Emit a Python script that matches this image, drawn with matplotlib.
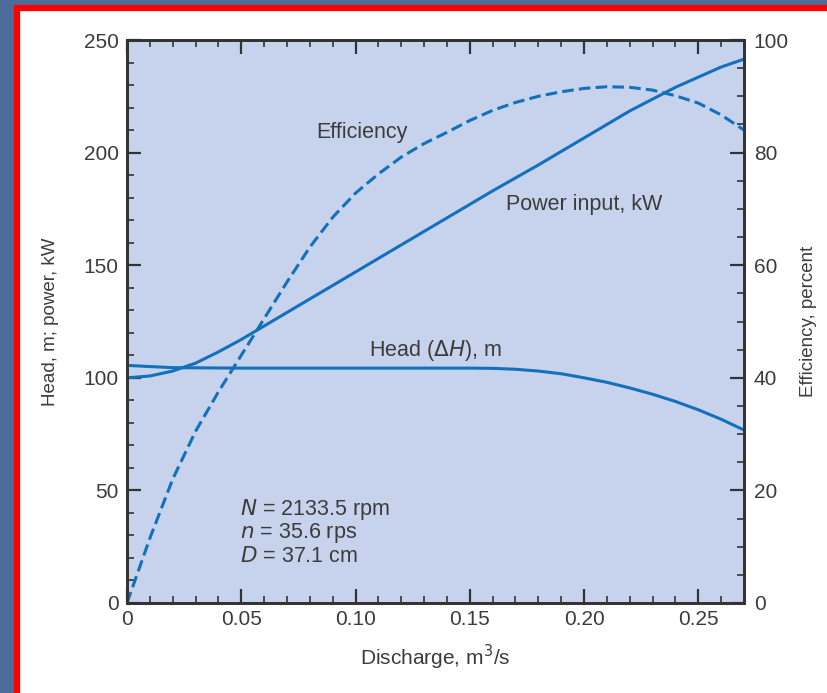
import matplotlib.pyplot as plt
from matplotlib.patches import Rectangle
from matplotlib.ticker import MultipleLocator

# Pump characteristic curves
q_head = [0, 0.01, 0.02, 0.05, 0.10, 0.15, 0.16, 0.17, 0.18, 0.19, 0.20,
          0.21, 0.22, 0.23, 0.24, 0.25, 0.26, 0.27]
head = [105.5, 105.0, 104.5, 104.3, 104.3, 104.3, 104.2, 103.8, 103.0, 101.8,
        100.0, 98.0, 95.5, 92.7, 89.5, 85.8, 81.6, 76.8]

q_power = [0, 0.01, 0.02, 0.03, 0.04, 0.05, 0.06, 0.08, 0.10, 0.12, 0.14,
           0.16, 0.18, 0.20, 0.22, 0.24, 0.25, 0.26, 0.27]
power = [100, 100.8, 103, 106.5, 111.5, 117, 123, 135, 147, 159, 171,
         183, 194.5, 206.5, 218.5, 229, 233.5, 238, 241.5]

q_eff = [0, 0.01, 0.02, 0.03, 0.04, 0.05, 0.06, 0.07, 0.08, 0.09, 0.10, 0.11,
         0.12, 0.13, 0.14, 0.15, 0.16, 0.17, 0.18, 0.19, 0.20, 0.21, 0.22,
         0.23, 0.24, 0.25, 0.26, 0.27]
eff = [0, 11.5, 22, 30.5, 37.5, 44, 50.5, 57, 63.2, 68.5, 72.8, 76.2,
       79.2, 81.6, 83.6, 85.7, 87.5, 88.9, 90, 90.8, 91.4, 91.7, 91.6,
       91.1, 90.1, 88.8, 86.7, 84]

x_ticks = [0, 0.05, 0.10, 0.15, 0.20, 0.25]
x_labels = ["0", "0.05", "0.10", "0.15", "0.20", "0.25"]

line_color = "#1270bd"
text_color = "#3c3c3c"
plt.rcParams['font.family'] = ['Liberation Sans', 'DejaVu Sans']

fig = plt.figure(figsize=(8.28, 6.93), dpi=100, facecolor="#4c6d99")

# white card with red frame, kept behind the axes
card = Rectangle((17 / 828, -0.1), 1.2, 1 - 8 / 693 + 0.1, transform=fig.transFigure,
                 facecolor="white", edgecolor="#ff0000", linewidth=4.5, zorder=-10)
fig.patches.append(card)

ax = fig.add_axes([127 / 828, 1 - 603 / 693, (744 - 127) / 828, (603 - 40) / 693])
ax.set_facecolor("#c7d3ec")
ax2 = ax.twinx()

ax.plot(q_head, head, color=line_color, lw=2.2)
ax.plot(q_power, power, color=line_color, lw=2.2)
ax2.plot(q_eff, eff, color=line_color, lw=2.2, linestyle=(0, (3.8, 1.7)))

ax.set_xlim(0, 0.27)
ax.set_ylim(0, 250)
ax2.set_ylim(0, 100)

ax.set_xticks(x_ticks)
ax.set_xticklabels(x_labels)
ax.xaxis.set_minor_locator(MultipleLocator(0.01))
ax.yaxis.set_major_locator(MultipleLocator(50))
ax.yaxis.set_minor_locator(MultipleLocator(10))
ax2.yaxis.set_major_locator(MultipleLocator(20))
ax2.yaxis.set_minor_locator(MultipleLocator(5))

ax.tick_params(axis='x', which='both', direction='in', top=True, bottom=True,
               labelsize=15, labelcolor=text_color, color="#333333", pad=5)
ax.tick_params(axis='y', which='both', direction='in', left=True, right=False,
               labelsize=15, labelcolor=text_color, color="#333333", pad=6)
ax2.tick_params(axis='y', which='both', direction='in', right=True,
                labelsize=15, labelcolor=text_color, color="#333333", pad=7)
for a in (ax, ax2):
    a.tick_params(which='major', length=10, width=1.6)
    a.tick_params(which='minor', length=5, width=1.2)
    for s in a.spines.values():
        s.set_linewidth(2.0)
        s.set_color("#333333")

ax.set_xlabel("Discharge, m$^3$/s", fontsize=15, color=text_color, labelpad=10)
ax.set_ylabel("Head, m; power, kW", fontsize=13.5, color=text_color, labelpad=18)
ax2.set_ylabel("Efficiency, percent", fontsize=13.5, color=text_color, labelpad=8)

fs = 15.5
ax.text(0.103, 209, "Efficiency", fontsize=fs, color=text_color, ha='center', va='center')
ax.text(0.2, 177, "Power input, kW", fontsize=fs, color=text_color, ha='center', va='center')
ax.text(0.135, 112, "Head ($\\Delta H$), m", fontsize=fs, color=text_color, ha='center', va='center')
ax.text(0.0495, 41.5, "$N$ = 2133.5 rpm", fontsize=fs, color=text_color, va='center')
ax.text(0.0495, 31, "$n$ = 35.6 rps", fontsize=fs, color=text_color, va='center')
ax.text(0.0495, 20.5, "$D$ = 37.1 cm", fontsize=fs, color=text_color, va='center')

fig.savefig("out.png", dpi=100, facecolor=fig.get_facecolor())
